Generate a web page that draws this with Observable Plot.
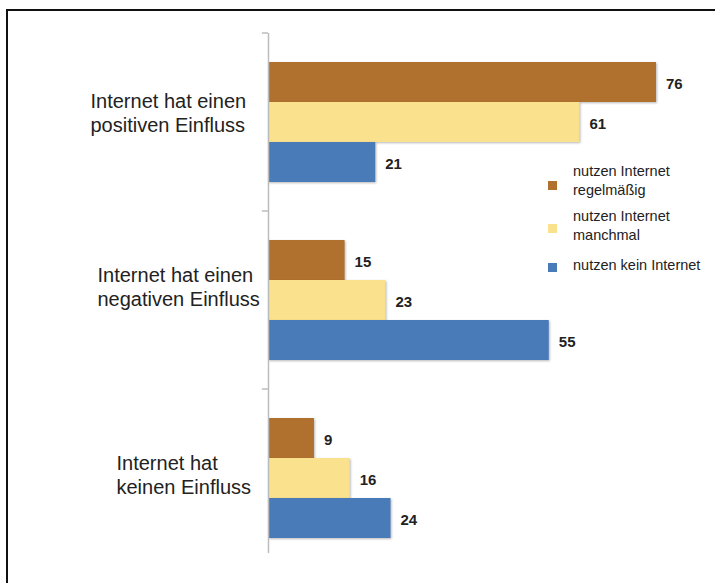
<!DOCTYPE html>
<html>
<head>
<meta charset="utf-8">
<script src="https://cdn.jsdelivr.net/npm/d3@7"></script>
<script src="https://cdn.jsdelivr.net/npm/@observablehq/plot@0.6"></script>
<style>
  html, body { margin: 0; padding: 0; background: #fff; overflow: hidden; }
  #wrap { position: relative; width: 715px; height: 583px; overflow: hidden; font-family: "Liberation Sans", Arial, sans-serif; }
  #frame { position: absolute; left: 6px; top: 9px; width: 740px; height: 620px; border: 2px solid #111; box-sizing: border-box; pointer-events: none; }
  #chart { position: absolute; left: 0; top: 0; }
  #chart svg g[aria-label="bar"] rect { filter: drop-shadow(1px 1.5px 1px rgba(0,0,0,0.28)); }
  #legend { position: absolute; left: 0; top: 0; }
  .item { position: absolute; left: 548px; }
  .sw { position: absolute; left: 0; width: 9px; height: 9px; }
  .lab { position: absolute; left: 25px; white-space: pre; font-size: 14.5px; line-height: 19px; color: #222; }
</style>
</head>
<body>
<div id="wrap">
  <div id="chart"></div>
  <div id="legend"></div>
  <div id="frame"></div>
</div>
<script>
// ---- data ----
const groups = ["positiv", "negativ", "kein"];
const groupLabels = ["Internet hat einen\npositiven Einfluss", "Internet hat einen\nnegativen Einfluss", "Internet hat\nkeinen Einfluss"];
const series = ["nutzen Internet regelmäßig", "nutzen Internet manchmal", "nutzen kein Internet"];
const legendLabels = ["nutzen Internet\nregelmäßig", "nutzen Internet\nmanchmal", "nutzen kein Internet"];
const regelmaessig = [76, 15, 9];
const manchmal = [61, 23, 16];
const keinInternet = [21, 55, 24];
const colors = ["#B0712E", "#F9E18E", "#4A7BB9"];

// ---- build table ----
const seriesValues = [regelmaessig, manchmal, keinInternet];
const data = [];
groups.forEach((g, gi) => {
  series.forEach((s, si) => {
    data.push({group: g, series: s, value: seriesValues[si][gi]});
  });
});

const axisColor = "#bcbcbc";
// per-group label offsets (layout)
const labelOffsets = [{dx: -178, dy: -10}, {dx: -171, dy: -14}, {dx: -152, dy: -4}];

const plot = Plot.plot({
  width: 715,
  height: 583,
  marginLeft: 268,
  marginRight: 59,
  marginTop: 33,
  marginBottom: 16,
  style: {fontFamily: "'Liberation Sans', Arial, sans-serif", background: "transparent"},
  x: {domain: [0, 76], axis: null},
  y: {domain: series, axis: null, paddingInner: 0, paddingOuter: 0.725},
  fy: {domain: groups, axis: null, padding: 0},
  color: {domain: series, range: colors},
  marks: [
    Plot.barX(data, {fy: "group", y: "series", x: "value", fill: "series"}),
    Plot.text(data, {fy: "group", y: "series", x: "value", text: d => String(d.value),
      dx: 9.5, dy: 1.5, textAnchor: "start", fontWeight: "bold", fontSize: 15, fill: "#222"}),
    Plot.ruleX(groups.slice(0, 2), {fy: d => d, x: () => 0, stroke: axisColor, strokeWidth: 1.5}),
    Plot.ruleX(groups.slice(2), {fy: d => d, x: () => 0, stroke: axisColor, strokeWidth: 1.5, insetBottom: 14}),
    Plot.ruleY(groups, {fy: d => d, y: () => series[0], x1: () => -1.2, x2: () => 0, dy: -49.5, stroke: axisColor, strokeWidth: 1.5}),
    ...groups.map((g, gi) => Plot.text([g], {fy: d => d, text: () => groupLabels[gi], frameAnchor: "left",
      dx: labelOffsets[gi].dx, dy: labelOffsets[gi].dy, textAnchor: "start", lineHeight: 1.2, fontSize: 20, fill: "#222"}))
  ]
});
document.getElementById("chart").appendChild(plot);

// ---- legend ----
const legendTops = [162, 207, 256];
const swatchTops = [19, 17, 7];
const legend = document.getElementById("legend");
series.forEach((s, i) => {
  const item = document.createElement("div");
  item.className = "item";
  item.style.top = legendTops[i] + "px";
  const sw = document.createElement("div");
  sw.className = "sw";
  sw.style.background = colors[i];
  sw.style.top = swatchTops[i] + "px";
  const lab = document.createElement("div");
  lab.className = "lab";
  lab.textContent = legendLabels[i];
  item.appendChild(sw);
  item.appendChild(lab);
  legend.appendChild(item);
});
</script>
</body>
</html>
